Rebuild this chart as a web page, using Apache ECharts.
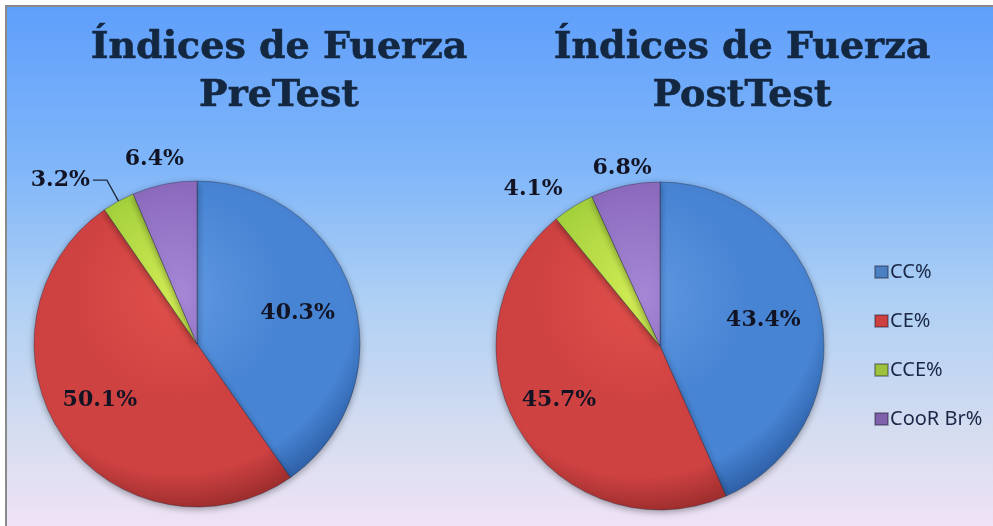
<!DOCTYPE html>
<html>
<head>
<meta charset="utf-8">
<script src="https://cdn.jsdelivr.net/npm/echarts@6/dist/echarts.min.js"></script>
<style>
  html, body { margin: 0; padding: 0; background: #ffffff; }
  #chart { width: 993px; height: 526px; }
</style>
</head>
<body>
<div id="chart"></div>
<script>
// Strength indices, pre and post test (percent of total)
const categories = ['CC%', 'CE%', 'CCE%', 'CooR Br%'];
const preValues = [40.3, 50.1, 3.2, 6.4];
const postValues = [43.4, 45.7, 4.1, 6.8];
const chartTitles = ['Índices de Fuerza\nPreTest', 'Índices de Fuerza\nPostTest'];

// Slice shading: [highlight, base, rim]
const palette = [
  ['#6199e2', '#4784d3', '#3063ab'],
  ['#e0504b', '#cf4242', '#a22f2f'],
  ['#d2ec55', '#a6d23e', '#7a9f29'],
  ['#a587d6', '#8d6cbf', '#674a96']
];
const legendColors = ['#4a7fc2', '#cf4141', '#9cc33b', '#7f60aa'];

const pies = [
  { values: preValues, center: [197, 344], radius: 163,
    // radial fraction and angle nudge (degrees) for each label
    place: [[0.645, 0.5], [0.69, 4.5], null, [1.16, -1.5]] },
  { values: postValues, center: [660, 346], radius: 164,
    place: [[0.65, -2.3], [0.70, 3.1], [1.23, -7.1], [1.11, 0.2]] }
];

function sliceFill(cx, cy, r, c) {
  return {
    type: 'radial', x: cx - r * 0.12, y: cy - r * 0.3, r: r * 1.3, global: true,
    colorStops: [
      { offset: 0, color: c[0] },
      { offset: 0.5, color: c[1] },
      { offset: 0.84, color: c[1] },
      { offset: 1, color: c[2] }
    ]
  };
}

function midAngle(values, i) {
  const total = values.reduce((a, b) => a + b, 0);
  let before = 0;
  for (let k = 0; k < i; k++) before += values[k];
  return (before + values[i] / 2) / total * 360;
}

const labelFont = {
  fontFamily: 'DejaVu Serif', fontWeight: 'bold', fontSize: 22, color: '#121424'
};

const series = pies.map((p) => ({
  type: 'pie',
  center: p.center,
  radius: p.radius,
  startAngle: 90,
  clockwise: true,
  animation: false,
  silent: true,
  itemStyle: {
    borderColor: 'rgba(30,30,50,0.35)', borderWidth: 1,
    shadowBlur: 7, shadowOffsetY: 2, shadowColor: 'rgba(0,0,0,0.35)'
  },
  label: Object.assign({ show: true, position: 'inside',
    formatter: (d) => d.value.toFixed(1) + '%' }, labelFont),
  labelLine: { show: false },
  labelLayout: function (params) {
    const pl = p.place[params.dataIndex];
    if (!pl) return {};
    const a = (midAngle(p.values, params.dataIndex) + pl[1]) * Math.PI / 180;
    const d = p.radius * pl[0];
    return {
      x: p.center[0] + d * Math.sin(a),
      y: p.center[1] - d * Math.cos(a),
      align: 'center', verticalAlign: 'middle'
    };
  },
  data: p.values.map((v, i) => {
    const item = {
      name: categories[i], value: v,
      itemStyle: { color: sliceFill(p.center[0], p.center[1], p.radius, palette[i]) }
    };
    if (!p.place[i]) {
      item.label = Object.assign({ position: 'outside', distanceToLabelLine: 3,
        padding: [0, 0, 8, 0] }, labelFont);
      item.labelLine = { show: true, length: 24, length2: 14, smooth: false,
        lineStyle: { color: '#1e2a3c', width: 1.3 } };
    }
    return item;
  })
}));

const chart = echarts.init(document.getElementById('chart'), null, { renderer: 'canvas' });
chart.setOption({
  animation: false,
  graphic: [{
    type: 'rect', z: -10, silent: true,
    shape: { x: 6, y: 6, width: 1000, height: 540 },
    style: {
      fill: {
        type: 'linear', x: 0, y: 0, x2: 0, y2: 1,
        colorStops: [
          { offset: 0, color: '#5f9ffb' },
          { offset: 0.3, color: '#80b6f9' },
          { offset: 0.55, color: '#afd0f4' },
          { offset: 0.8, color: '#d7ddf0' },
          { offset: 1, color: '#f5e4f6' }
        ]
      },
      stroke: '#8a8a8a', lineWidth: 2
    }
  }],
  title: chartTitles.map((t, i) => ({
    text: t,
    left: i === 0 ? 279 : 742,
    top: 24,
    padding: 0,
    textAlign: 'center',
    textStyle: {
      fontFamily: 'DejaVu Serif', fontWeight: 'bold', fontSize: 38,
      lineHeight: 48, color: '#132740',
      textBorderColor: '#132740', textBorderWidth: 0.6
    }
  })),
  legend: {
    orient: 'vertical',
    left: 869, top: 257,
    icon: 'rect', itemWidth: 13, itemHeight: 12, itemGap: 29,
    textStyle: { fontFamily: 'Noto Sans', fontSize: 20, lineHeight: 20, color: '#1a2746', padding: [0, 0, 0, -3] },
    data: categories.map((c, i) => ({ name: c, itemStyle: { color: legendColors[i] } }))
  },
  series: series
});
</script>
</body>
</html>
